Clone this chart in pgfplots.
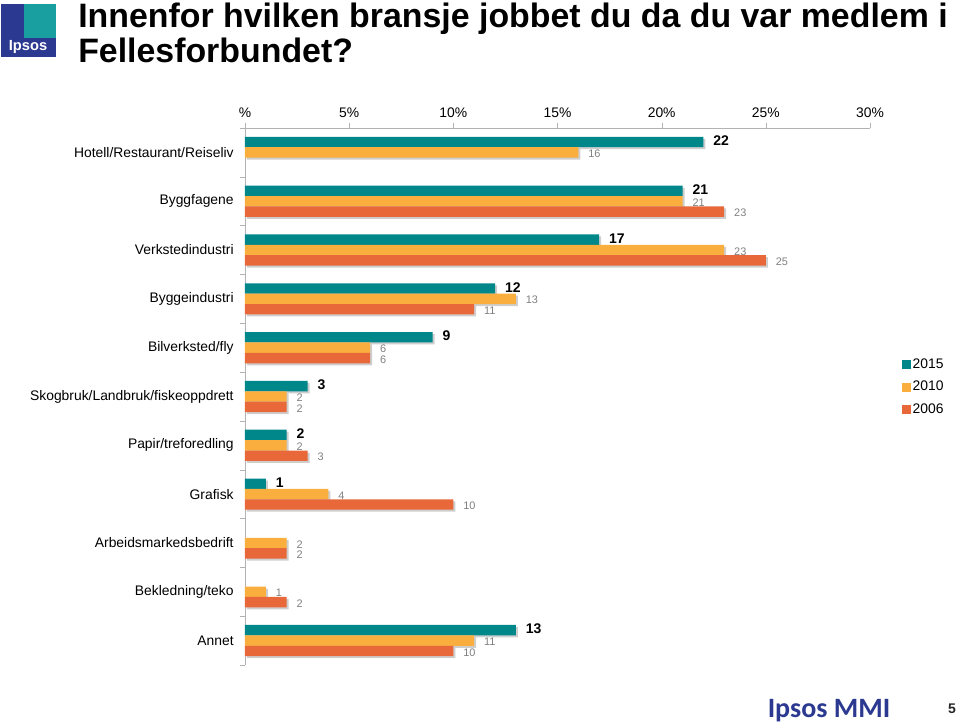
\documentclass[border=0pt]{standalone}
\usepackage{fontspec}
\setmainfont{Liberation Sans}
\newfontfamily\carlito{Carlito}
\usepackage{pgfplots}
\pgfplotsset{compat=1.18}
\definecolor{cA}{HTML}{00878A}
\definecolor{cB}{HTML}{F9AE3E}
\definecolor{cC}{HTML}{E8683A}
\definecolor{ipsblue}{HTML}{2B3990}
\definecolor{ipsteal}{HTML}{1A9FA0}
\tikzset{shadowed/.style={preaction={fill=black!35, opacity=0.55, transform canvas={shift={(1.5pt,-1.5pt)}}}}}
\begin{document}
\begin{tikzpicture}
\begin{scope}[x=0.75pt,y=0.75pt]
\path[use as bounding box] (0,0) rectangle (960,728);
% logo
\fill[ipsblue] (1,671) rectangle (56,724);
\fill[ipsteal] (24,690) rectangle (56,724);
\node[anchor=base, white, font=\bfseries\fontsize{11}{12}\selectfont] at (28,677) {Ipsos};
% title
\node[anchor=base west, inner sep=0pt, font=\bfseries\fontsize{25.4}{30}\selectfont] at (78,700) {Innenfor hvilken bransje jobbet du da du var medlem i};
\node[anchor=base west, inner sep=0pt, font=\bfseries\fontsize{25.4}{30}\selectfont] at (78,665) {Fellesforbundet?};
% footer
\node[anchor=base, inner sep=0pt, ipsblue, font=\carlito\bfseries\fontsize{21}{24}\selectfont] at (829,10) {Ipsos MMI};
\node[anchor=base, inner sep=0pt, font=\bfseries\fontsize{10.5}{12}\selectfont, black!85] at (952,14) {5};
\end{scope}
\begin{axis}[
  at={(183.75pt,450pt)}, anchor=north west,
  scale only axis, width=468.75pt, height=402.75pt,
  xmin=0, xmax=30, ymin=-0.5, ymax=10.5,
  xbar, bar width=7.8pt,
  axis x line*=top, axis y line*=left,
  axis line style={gray!60},
  xtick={0,5,...,30}, xticklabels={\%,5\%,10\%,15\%,20\%,25\%,30\%},
  ytick={0,...,10},
  yticklabels={Annet,Bekledning/teko,Arbeidsmarkedsbedrift,Grafisk,Papir/treforedling,Skogbruk/Landbruk/fiskeoppdrett,Bilverksted/fly,Byggeindustri,Verkstedindustri,Byggfagene,Hotell/Restaurant/Reiseliv},
  minor ytick={-0.5,0.5,...,10.5},
  tick align=outside, major tick length=4pt, minor tick length=4pt,
  major y tick style={draw=none}, minor y tick style={gray!60},
  major x tick style={gray!60},
  tick label style={font=\fontsize{10.4}{12}\selectfont},
  yticklabel style={xshift=-1pt},
  /pgf/number format/assume math mode=true,
  legend style={at={(1.05,0.518)}, anchor=west, draw=none, fill=none,
    font=\fontsize{10.4}{12}\selectfont, row sep=6pt, inner sep=0pt,
    nodes={inner xsep=2pt, inner ysep=1pt}},
  legend cell align=left,
  clip=false,
]
\addplot[forget plot, fill=cA, draw=none, bar shift=7.8pt, shadowed,
  nodes near coords, every node near coord/.append style={font=\bfseries\fontsize{10.5}{12}\selectfont, black, xshift=4pt, yshift=1pt, inner ysep=0pt}]
  coordinates {(22,10) (21,9) (17,8) (12,7) (9,6) (3,5) (2,4) (1,3) (13,0)};
\addplot[forget plot, fill=cB, draw=none, bar shift=0pt, shadowed,
  nodes near coords, every node near coord/.append style={font=\fontsize{8.2}{9}\selectfont, gray, xshift=4pt, yshift=-1pt, inner ysep=0pt}]
  coordinates {(16,10) (21,9) (23,8) (13,7) (6,6) (2,5) (2,4) (4,3) (2,2) (1,1) (11,0)};
\addplot[forget plot, fill=cC, draw=none, bar shift=-7.8pt, shadowed,
  nodes near coords, every node near coord/.append style={font=\fontsize{8.2}{9}\selectfont, gray, xshift=4pt, yshift=-1pt, inner ysep=0pt}]
  coordinates {(23,9) (25,8) (11,7) (6,6) (2,5) (3,4) (10,3) (2,2) (2,1) (10,0)};
\addlegendimage{legend image code/.code={\fill[cA] (0pt,-3pt) rectangle (6pt,3pt);}}
\addlegendentry{2015}
\addlegendimage{legend image code/.code={\fill[cB] (0pt,-3pt) rectangle (6pt,3pt);}}
\addlegendentry{2010}
\addlegendimage{legend image code/.code={\fill[cC] (0pt,-3pt) rectangle (6pt,3pt);}}
\addlegendentry{2006}
\end{axis}
\end{tikzpicture}
\end{document}
